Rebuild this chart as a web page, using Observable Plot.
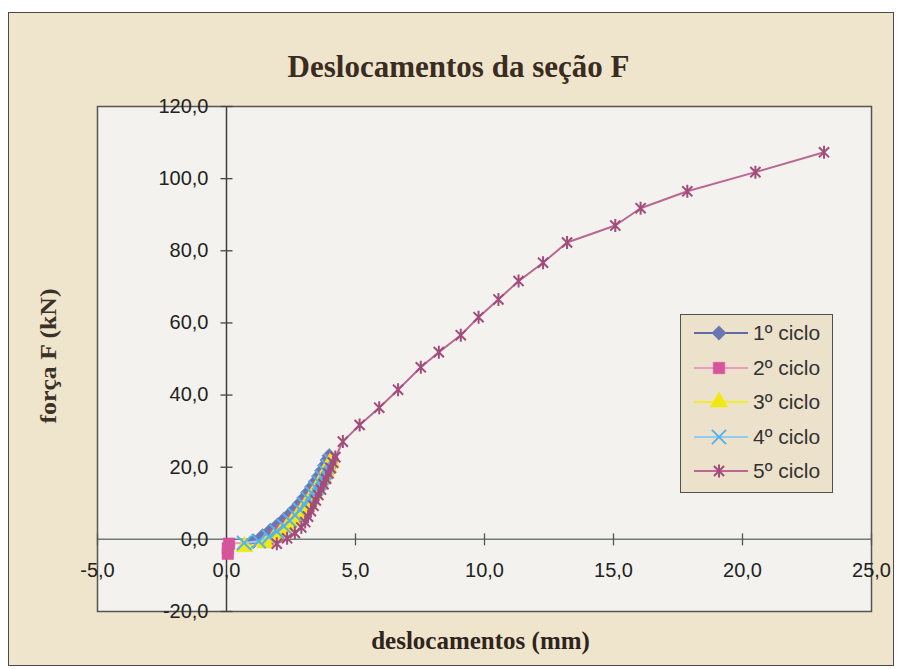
<!DOCTYPE html>
<html><head><meta charset="utf-8">
<script src="https://cdn.jsdelivr.net/npm/d3@7"></script>
<script src="https://cdn.jsdelivr.net/npm/@observablehq/plot@0.6"></script>
<style>
body{margin:0;background:#fff;}
#wrap{position:relative;width:902px;height:669px;overflow:hidden;}
#bg{position:absolute;left:8px;top:12px;width:884px;height:652px;background:#efe4cc;border:1.5px solid #4a4a4a;}
#chart{position:absolute;left:0;top:0;}
#legend{position:absolute;left:680px;top:314px;width:151px;height:177px;border:1.5px solid #505050;background:#ece2cc;font-family:"Liberation Sans",Arial,sans-serif;font-size:21px;color:#333;}
.row{position:absolute;left:0;height:30px;width:151px;}
.row svg{position:absolute;left:0;top:0;}
.row span{position:absolute;left:72px;top:2px;line-height:26px;}
</style></head><body>
<div id="wrap"><div id="bg"></div><div id="chart"></div><div id="legend"></div></div>
<script>
// ---- data ----
const titleText = "Deslocamentos da seção F";
const xLabel = "deslocamentos (mm)";
const yLabel = "força F (kN)";
const xTicks = [-5, 0, 5, 10, 15, 20, 25];
const xTickLabels = ["-5,0", "0,0", "5,0", "10,0", "15,0", "20,0", "25,0"];
const yTicks = [-20, 0, 20, 40, 60, 80, 100, 120];
const yTickLabels = ["-20,0", "0,0", "20,0", "40,0", "60,0", "80,0", "100,0", "120,0"];
const seriesNames = ["1º ciclo", "2º ciclo", "3º ciclo", "4º ciclo", "5º ciclo"];

const c1x = [1.05,1.40,1.70,1.98,2.22,2.45,2.66,2.84,3.00,3.15,3.30,3.44,3.57,3.69,3.80,3.90,3.98];
const c1y = [-0.5,1.0,2.5,4.0,5.5,7.0,8.5,10.0,11.5,13.0,14.5,16.0,17.5,19.0,20.5,22.0,23.2];
const c2x = [0.05,0.05,0.10,1.60,1.90,2.15,2.40,2.62,2.82,3.00,3.16,3.31,3.45,3.58,3.70,3.81,3.91,4.00,4.08];
const c2y = [-4.0,-2.5,-1.2,-0.5,1.0,2.5,4.0,5.5,7.0,8.5,10.0,11.5,13.0,14.5,16.0,17.5,19.0,20.5,22.0];
const c3x = [0.70,1.50,1.85,2.12,2.36,2.57,2.76,2.93,3.08,3.23,3.37,3.50,3.62,3.74,3.85,3.95,4.04];
const c3y = [-2.0,-1.0,0.5,2.0,3.5,5.0,6.5,8.0,9.5,11.0,12.5,14.0,15.5,17.0,18.5,20.0,21.5];
const c4x = [0.68,1.25,1.65,1.95,2.22,2.45,2.66,2.85,3.02,3.18,3.33,3.47,3.60,3.72,3.84,3.95,4.05];
const c4y = [-1.0,-0.5,0.7,2.2,3.7,5.2,6.7,8.2,9.7,11.2,12.7,14.2,15.7,17.2,18.7,20.2,21.7];
const c5x = [1.95,2.35,2.65,2.90,3.05,3.16,3.27,3.37,3.46,3.56,3.66,3.76,3.86,3.95,4.04,4.13,4.22,4.51,5.16,5.92,6.65,7.53,8.23,9.08,9.77,10.54,11.32,12.27,13.20,15.07,16.05,17.86,20.50,23.16];
const c5y = [-1.2,0.3,1.8,3.3,4.8,6.3,7.8,9.3,10.8,12.3,13.8,15.3,16.8,18.3,19.8,21.3,22.8,27.1,31.7,36.5,41.5,47.7,51.9,56.6,61.6,66.5,71.6,76.7,82.3,87.0,91.8,96.5,101.8,107.3];

const xs = [c1x, c2x, c3x, c4x, c5x];
const ys = [c1y, c2y, c3y, c4y, c5y];

// ---- styles ----
const lineColors = ["#5f6aa4", "#e79ac2", "#f2ec30", "#94cbea", "#ba6893"];
const markColors = ["#6a76b2", "#d6559a", "#efe812", "#56b2ea", "#a24c7c"];
const starSymbol = {draw(ctx, size){const r=Math.sqrt(size/Math.PI);const a=r*0.78;
  ctx.moveTo(-a,-a);ctx.lineTo(a,a);ctx.moveTo(a,-a);ctx.lineTo(-a,a);ctx.moveTo(0,-r);ctx.lineTo(0,r);}};
const vline = {draw(ctx, size){const r=Math.sqrt(size/Math.PI);ctx.moveTo(0,-r);ctx.lineTo(0,r);}};
const hline = {draw(ctx, size){const r=Math.sqrt(size/Math.PI);ctx.moveTo(-r,0);ctx.lineTo(r,0);}};
const symbols = [d3.symbolDiamond2, d3.symbolSquare, d3.symbolTriangle, d3.symbolTimes, starSymbol];
const filled = [true, true, true, false, false];
const R = 6.5;

const rows = seriesNames.map((name, i) => xs[i].map((x, j) => ({series: name, x, y: ys[i][j]})));

const serif = "'Liberation Serif','Times New Roman',serif";
const sans = "'Liberation Sans',Arial,sans-serif";

const marks = [
  Plot.frame({fill: "#f3f2ee", stroke: null}),
  Plot.ruleY([0], {stroke: "#6f7d76", strokeWidth: 1.5}),
  Plot.ruleX([0], {stroke: "#3c3c3c", strokeWidth: 1.5}),
  Plot.frame({stroke: "#555", strokeWidth: 1.5}),
  Plot.dot(xTicks.filter(d => d !== 0), {x: d => d, y: 0, symbol: vline, r: 6, stroke: "#555", strokeWidth: 1.3}),
  Plot.dot(yTicks.filter(d => d !== 0), {x: 0, y: d => d, symbol: hline, r: 6, stroke: "#444", strokeWidth: 1.3})
];
rows.forEach((data, i) => {
  marks.push(Plot.line(data, {x: "x", y: "y", stroke: lineColors[i], strokeWidth: 2}));
  marks.push(Plot.dot(data, {x: "x", y: "y", symbol: symbols[i], r: R,
    fill: filled[i] ? markColors[i] : "none", stroke: markColors[i], strokeWidth: filled[i] ? 0.5 : 2}));
});
marks.push(
  Plot.text(xTicks, {x: d => d, y: 0, text: (d, i) => xTickLabels[i], dy: 31, fontSize: 20, fontFamily: sans, fill: "#222"}),
  Plot.text(yTicks, {x: 0, y: d => d, text: (d, i) => yTickLabels[i], dx: -18, textAnchor: "end", fontSize: 20, fontFamily: sans, fill: "#222"}),
  Plot.text([titleText], {frameAnchor: "top", dx: -26, dy: -52, fontSize: 31, fontWeight: "bold", fontFamily: serif, fill: "#3b2c22"}),
  Plot.text([xLabel], {frameAnchor: "bottom", dx: -4, dy: 37, fontSize: 25, fontWeight: "bold", fontFamily: serif, fill: "#2e241c"}),
  Plot.text([yLabel], {frameAnchor: "left", textAnchor: "middle", dx: -49, dy: -3, rotate: -90, fontSize: 23, fontWeight: "bold", fontFamily: serif, fill: "#3a3226"})
);

const chart = Plot.plot({
  width: 902, height: 669,
  marginLeft: 97, marginRight: 31, marginTop: 106, marginBottom: 58,
  x: {domain: [-5, 25], axis: null},
  y: {domain: [-20, 120], axis: null},
  style: {background: "transparent", overflow: "visible"},
  marks
});
document.getElementById("chart").appendChild(chart);
d3.select(chart).selectAll("text").filter(function() { return this.textContent === yLabel; })
  .attr("textLength", 135).attr("lengthAdjust", "spacingAndGlyphs");

// ---- legend ----
const leg = d3.select("#legend");
seriesNames.forEach((name, i) => {
  const row = leg.append("div").attr("class", "row").style("top", (3 + i * 34.5) + "px");
  const svg = row.append("svg").attr("width", 70).attr("height", 30);
  svg.append("line").attr("x1", 13).attr("x2", 67).attr("y1", 15).attr("y2", 15)
    .attr("stroke", lineColors[i]).attr("stroke-width", 2);
  svg.append("path").attr("transform", "translate(38,15)")
    .attr("d", d3.symbol(symbols[i], R * R * Math.PI)())
    .attr("fill", filled[i] ? markColors[i] : "none")
    .attr("stroke", markColors[i]).attr("stroke-width", filled[i] ? 0.5 : 2);
  row.append("span").text(name);
});
</script></body></html>
